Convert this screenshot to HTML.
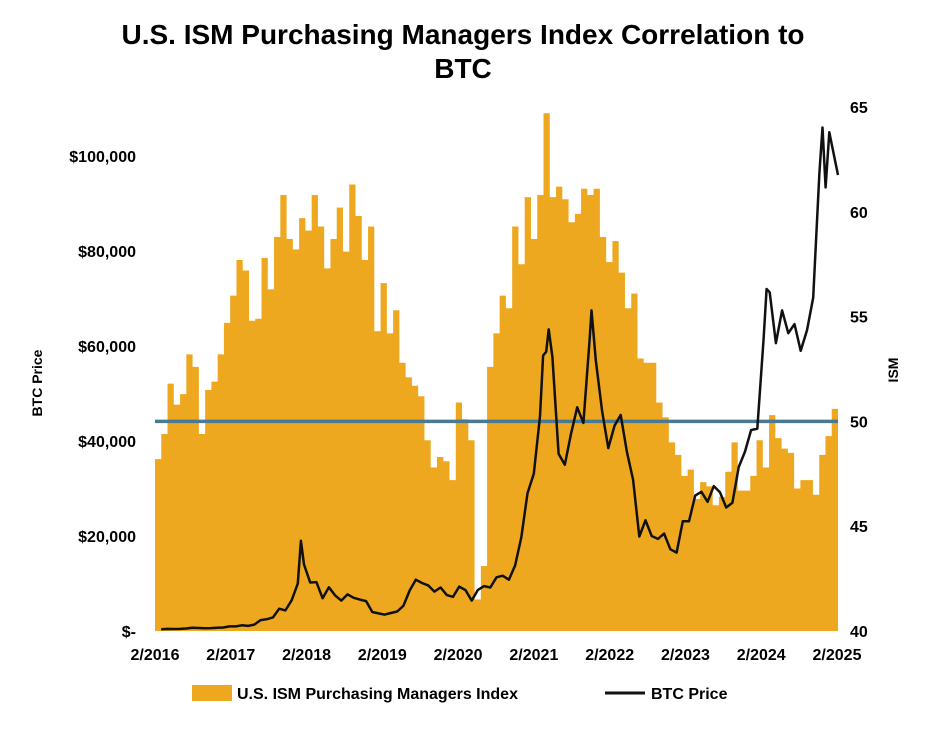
<!DOCTYPE html>
<html><head><meta charset="utf-8"><style>
body{margin:0;background:#fff;}
svg text{font-family:"Liberation Sans",Arial,sans-serif;font-weight:bold;fill:#000;}
</style></head><body>
<svg id="chart" width="926" height="724" viewBox="0 0 926 724">
<text x="463" y="44" font-size="28" text-anchor="middle">U.S. ISM Purchasing Managers Index Correlation to</text>
<text x="463" y="78" font-size="28" text-anchor="middle">BTC</text>
<g id="bars"></g>
<g id="ref"></g>
<g id="line"></g>
<g id="axes"></g>
<text transform="translate(42,383) rotate(-90)" font-size="14" text-anchor="middle">BTC Price</text>
<text transform="translate(898,370) rotate(-90)" font-size="14" text-anchor="middle">ISM</text>
<g>
<rect x="192" y="685" width="40" height="16" fill="#EDA820"></rect>
<text x="237" y="699" font-size="16">U.S. ISM Purchasing Managers Index</text>
<line x1="605" y1="693" x2="645" y2="693" stroke="#111" stroke-width="3"></line>
<text x="651" y="699" font-size="16">BTC Price</text>
</g>
</svg>
<script>
const ismValues=[48.2,49.4,51.8,50.8,51.3,53.2,52.6,49.4,51.5,51.9,53.2,54.7,
56.0,57.7,57.2,54.8,54.9,57.8,56.3,58.8,60.8,58.7,58.2,59.7,
59.1,60.8,59.3,57.3,58.7,60.2,58.1,61.3,59.8,57.7,59.3,54.3,
56.6,54.2,55.3,52.8,52.1,51.7,51.2,49.1,47.8,48.3,48.1,47.2,
50.9,50.1,49.1,41.5,43.1,52.6,54.2,56.0,55.4,59.3,57.5,60.7,
58.7,60.8,64.7,60.7,61.2,60.6,59.5,59.9,61.1,60.8,61.1,58.8,
57.6,58.6,57.1,55.4,56.1,53.0,52.8,52.8,50.9,50.2,49.0,48.4,
47.4,47.7,46.3,47.1,46.9,46.0,46.4,47.6,49.0,46.7,46.7,47.4,
49.1,47.8,50.3,49.2,48.7,48.5,46.8,47.2,47.2,46.5,48.4,49.3,50.6];
const btcValues=[370,440,415,450,530,670,625,575,610,700,740,960,
970,1190,1080,1350,2300,2480,2870,4700,4340,6450,10000,14000,
10200,10300,6900,9200,7500,6400,7700,7000,6600,6300,4000,3700,
3450,3800,4100,5300,8500,10800,10100,9600,8300,9150,7550,7200,
9350,8600,6400,8650,9450,9150,11300,11650,10800,13800,19700,29000,
33100,45200,58800,57700,37300,35000,41500,47100,43800,61300,57000,46300,
38500,43200,45500,37700,31800,19900,23300,20000,19400,20500,17200,16500,
23100,23100,28500,29300,27200,30500,29200,26000,27000,34500,37700,42300,
42600,61200,71300,60600,67500,62700,64600,59000,63300,70200,96400,93400,
102400,96000];
const btcPeaks=[[23.5,19000],[62.5,58000],[63.4,63500],[70.3,67500],[98.5,72000],[107.5,106000],[108.6,105000]];
const xTicks=["2/2016","2/2017","2/2018","2/2019","2/2020","2/2021","2/2022","2/2023","2/2024","2/2025"];
const leftTicks=[0,20000,40000,60000,80000,100000];
const rightTicks=[40,45,50,55,60,65];
const ismRef=50;

const X0=155,X1=838,nMonths=109,bw=(X1-X0)/nMonths;
const yL=v=>631-v*475/100000;
const yR=v=>631-(v-40)*524/25;
const xM=m=>X0+m*bw;
const xB=m=>X0+m*(X1-X0)/110;
const NS="http://www.w3.org/2000/svg";
function mk(t,a){const e=document.createElementNS(NS,t);for(const k in a)e.setAttribute(k,a[k]);return e;}
const gb=document.getElementById('bars');
let d="M"+X0+",631";
ismValues.forEach((v,i)=>{d+=" L"+xM(i)+","+yR(v)+" L"+xM(i+1)+","+yR(v);});
d+=" L"+xM(ismValues.length)+",631 Z";
const bp=mk('path',{d:d,fill:'#EDA820'});


gb.appendChild(bp);
const rl=mk('line',{x1:X0,x2:X1,y1:yR(ismRef),y2:yR(ismRef),stroke:'#4A7A93','stroke-width':3.5});


document.getElementById('ref').appendChild(rl);
let pts=btcValues.map((v,i)=>[i+1,v]).concat(btcPeaks).sort((a,b)=>a[0]-b[0]);
const lp=mk('path',{d:pts.map((p,i)=>(i?"L":"M")+xB(p[0]).toFixed(1)+","+yL(p[1]).toFixed(1)).join(" "),fill:'none',stroke:'#111','stroke-width':2.5,'stroke-linejoin':'round'});


document.getElementById('line').appendChild(lp);
const ga=document.getElementById('axes');
xTicks.forEach((t,i)=>{const e=mk('text',{x:X0+i*(X1-X0-1)/9,y:660,'font-size':16,'text-anchor':'middle'});e.textContent=t;


ga.appendChild(e);});
leftTicks.forEach(v=>{const e=mk('text',{x:136,y:yL(v)+6,'font-size':16,'text-anchor':'end'});e.textContent=v?"$"+v.toLocaleString('en-US'):"$-";


ga.appendChild(e);});
rightTicks.forEach(v=>{const e=mk('text',{x:850,y:yR(v)+6,'font-size':16});e.textContent=v;


ga.appendChild(e);});
</script>
</body></html>
